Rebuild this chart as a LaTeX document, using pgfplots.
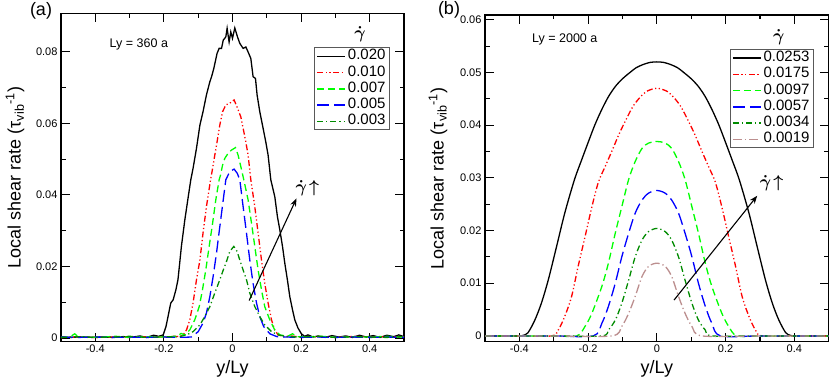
\documentclass[border=0pt]{standalone}
\usepackage{fontspec}
\setmainfont{Liberation Sans}
\usepackage{pgfplots}
\pgfplotsset{compat=1.18}
\usetikzlibrary{arrows.meta}
\definecolor{gred}{RGB}{255,0,0}
\definecolor{ggreen}{RGB}{0,255,0}
\definecolor{gblue}{RGB}{0,0,255}
\definecolor{gdkgreen}{RGB}{0,139,0}
\definecolor{gbrown}{RGB}{188,143,143}

\tikzset{
  sblack/.style={color=black, draw=black},
  sred/.style={color=gred, draw=gred, dash pattern=on 6pt off 2.5pt on 1.2pt off 2.5pt on 1.2pt off 2.5pt},
  sgreen/.style={color=ggreen, draw=ggreen, dash pattern=on 7pt off 4pt},
  sblue/.style={color=gblue, draw=gblue, dash pattern=on 12pt off 5pt},
  sdkgreen/.style={color=gdkgreen, draw=gdkgreen, dash pattern=on 6pt off 3pt on 1.2pt off 3pt},
  sbrown/.style={color=gbrown, draw=gbrown, dash pattern=on 9pt off 3pt on 1.2pt off 3pt},
  gdot/.style={font=\fontsize{18}{19}\selectfont\boldmath, inner sep=0pt},
}

\pgfplotsset{
  panel/.style={
    scale only axis,
    xmin=-0.5, xmax=0.5,
    xtick={-0.4,-0.2,0,0.2,0.4},
    minor x tick num=1,
    minor y tick num=1,
    tick align=inside,
    major tick length=9pt, minor tick length=4.5pt,
    axis line style={line width=1.4pt},
    every tick/.style={line width=1.1pt,black},
    tick label style={font=\fontsize{11}{13}\selectfont},
    scaled y ticks=false, scaled x ticks=false,
    /pgf/number format/assume math mode=true,
    /pgf/number format/fixed,
    /pgf/number format/precision=2,
    label style={font=\fontsize{18}{20}\selectfont},
    xlabel={y/Ly},
    ylabel={Local shear rate (τ\textsubscript{vib}\textsuperscript{-1})},
    xlabel style={at={(axis description cs:0.5,-0.083)},anchor=center},
    legend cell align=left,
    legend style={font=\fontsize{15}{16}\selectfont, draw=black!65, fill=white, line width=0.9pt,
      anchor=north east, inner xsep=2pt, inner ysep=1pt,
      nodes={inner ysep=0pt, text height=11pt, text depth=4pt}, row sep=1.3pt},
    legend image code/.code={\draw[line width=1.4pt,#1] (0pt,0pt) -- (28pt,0pt);},
    every axis plot/.append style={line width=1.3pt},
  },
}

\begin{document}
\begin{tikzpicture}
\useasboundingbox (0,0) rectangle (830pt,380pt);

% ---------- (a) Ly = 360 a ----------
\begin{axis}[panel, at={(61pt,38.3pt)}, anchor=south west,
  width=343pt, height=328.4pt,
  ymin=-0.001, ymax=0.0907, ytick={0,0.02,0.04,0.06,0.08},
  ylabel style={at={(axis description cs:-0.134,0.5)},anchor=center},
  legend style={at={(0.959,0.8965)}}]
\addplot[sblack, sharp plot] coordinates {(-0.5,0.0003) (-0.47,0.0002) (-0.44,0.0004) (-0.41,0.0002) (-0.38,0.0003) (-0.35,0.0002) (-0.32,0.0004) (-0.29,0.0003) (-0.27,0.0006) (-0.25,0.0002) (-0.23,0.0008) (-0.215,0.0005) (-0.202,0.0009) (-0.194,0.0032) (-0.188,0.006) (-0.18,0.0098) (-0.173,0.0107) (-0.165,0.0135) (-0.159,0.0163) (-0.154,0.0209) (-0.149,0.0256) (-0.144,0.0293) (-0.139,0.033) (-0.129,0.0395) (-0.1216,0.0442) (-0.115,0.0474) (-0.105,0.053) (-0.095,0.0595) (-0.086,0.0632) (-0.076,0.0679) (-0.066,0.0716) (-0.061,0.073) (-0.0545,0.0753) (-0.045,0.0795) (-0.039,0.0809) (-0.032,0.0809) (-0.027,0.0832) (-0.0195,0.0841) (-0.0157,0.0865) (-0.0099,0.0827) (-0.005,0.0855) (0,0.0837) (0.0067,0.0866) (0.0146,0.0841) (0.0213,0.0823) (0.031,0.0809) (0.039,0.0813) (0.0455,0.0799) (0.0534,0.0781) (0.060,0.073) (0.067,0.0725) (0.0717,0.0679) (0.0796,0.0632) (0.0892,0.0586) (0.097,0.0548) (0.1038,0.0511) (0.1117,0.0442) (0.1233,0.0395) (0.131,0.0339) (0.138,0.0302) (0.1458,0.0256) (0.1525,0.0209) (0.160,0.0163) (0.167,0.0116) (0.175,0.0079) (0.1816,0.0051) (0.191,0.0028) (0.201,0.0012) (0.21,0.0005) (0.22,0.0009) (0.235,0.0003) (0.25,0.0006) (0.27,0.0002) (0.29,0.0007) (0.31,0.0003) (0.33,0.0006) (0.35,0.0002) (0.37,0.0008) (0.39,0.0003) (0.41,0.0007) (0.43,0.0002) (0.45,0.0008) (0.47,0.0004) (0.485,0.0009) (0.5,0.0004)};
\addlegendentry{0.020}
\addplot[sred, sharp plot] coordinates {(-0.5,0.0002) (-0.45,0.0003) (-0.4,0.0002) (-0.35,0.0003) (-0.3,0.0002) (-0.25,0.0004) (-0.2,0.0003) (-0.17,0.0005) (-0.155,0.0004) (-0.144,0.0009) (-0.134,0.0023) (-0.1245,0.0051) (-0.115,0.0098) (-0.105,0.0163) (-0.095,0.0218) (-0.086,0.0293) (-0.076,0.0367) (-0.064,0.0442) (-0.058,0.0474) (-0.0516,0.0511) (-0.045,0.0548) (-0.037,0.0595) (-0.029,0.0632) (-0.0195,0.0651) (-0.0079,0.0656) (0.0047,0.0665) (0.0146,0.0642) (0.0242,0.0618) (0.031,0.0586) (0.0388,0.0548) (0.0455,0.0511) (0.0534,0.0442) (0.065,0.0367) (0.0747,0.0293) (0.0845,0.0218) (0.094,0.0153) (0.1038,0.0098) (0.1137,0.0051) (0.123,0.0023) (0.133,0.0009) (0.15,0.0004) (0.17,0.0006) (0.2,0.0003) (0.25,0.0004) (0.3,0.0002) (0.35,0.0005) (0.4,0.0003) (0.45,0.0004) (0.5,0.0003)};
\addlegendentry{0.010}
\addplot[sgreen, sharp plot] coordinates {(-0.5,0.0002) (-0.475,0.0003) (-0.46,0.0012) (-0.45,0.0004) (-0.42,0.0002) (-0.38,0.0003) (-0.34,0.0005) (-0.3,0.0002) (-0.26,0.0004) (-0.22,0.0003) (-0.18,0.0004) (-0.16,0.0006) (-0.15,0.0013) (-0.139,0.0009) (-0.1245,0.0023) (-0.11,0.0051) (-0.097,0.0088) (-0.0875,0.0135) (-0.078,0.019) (-0.068,0.0256) (-0.058,0.0321) (-0.0487,0.0386) (-0.039,0.0442) (-0.035,0.0455) (-0.029,0.0483) (-0.0224,0.0502) (-0.0128,0.0516) (-0.003,0.0525) (0.0087,0.0532) (0.0163,0.0511) (0.0233,0.0483) (0.033,0.0442) (0.0455,0.0386) (0.0554,0.0321) (0.065,0.0256) (0.0747,0.019) (0.0845,0.0135) (0.094,0.0088) (0.1087,0.0051) (0.123,0.0023) (0.138,0.0009) (0.16,0.0005) (0.175,0.0012) (0.19,0.0004) (0.22,0.0003) (0.26,0.0005) (0.3,0.0002) (0.35,0.0004) (0.4,0.0003) (0.45,0.0005) (0.5,0.0003)};
\addlegendentry{0.007}
\addplot[sblue, sharp plot] coordinates {(-0.5,0.0003) (-0.45,0.0002) (-0.4,0.0003) (-0.35,0.0002) (-0.3,0.0003) (-0.25,0.0002) (-0.2,0.0003) (-0.16,0.0002) (-0.12,0.0003) (-0.1,0.0018) (-0.086,0.0042) (-0.076,0.007) (-0.066,0.0116) (-0.0565,0.0172) (-0.0467,0.0237) (-0.037,0.0311) (-0.027,0.0386) (-0.0195,0.0442) (-0.008,0.0465) (0.0047,0.0472) (0.014,0.046) (0.0213,0.0442) (0.031,0.0367) (0.0408,0.0293) (0.0504,0.0218) (0.060,0.0153) (0.07,0.0098) (0.0796,0.006) (0.091,0.0032) (0.109,0.0012) (0.13,0.0004) (0.16,0.0003) (0.2,0.0002) (0.25,0.0003) (0.3,0.0002) (0.35,0.0003) (0.4,0.0002) (0.45,0.0003) (0.5,0.0002)};
\addlegendentry{0.005}
\addplot[sdkgreen, sharp plot] coordinates {(-0.5,0.0002) (-0.45,0.0004) (-0.4,0.0002) (-0.35,0.0003) (-0.3,0.0005) (-0.25,0.0002) (-0.2,0.0004) (-0.16,0.0003) (-0.134,0.0009) (-0.115,0.0018) (-0.095,0.0037) (-0.081,0.006) (-0.066,0.0088) (-0.0516,0.0126) (-0.037,0.0163) (-0.027,0.019) (-0.0175,0.0214) (-0.008,0.0242) (0.0038,0.0256) (0.0134,0.0242) (0.0213,0.0218) (0.031,0.019) (0.0408,0.0163) (0.0504,0.0126) (0.065,0.0088) (0.0796,0.006) (0.094,0.0037) (0.1137,0.0018) (0.133,0.0009) (0.16,0.0004) (0.2,0.0003) (0.25,0.0005) (0.3,0.0002) (0.35,0.0004) (0.4,0.0003) (0.45,0.0002) (0.5,0.0004)};
\addlegendentry{0.003}
\node[font=\fontsize{12.5}{14}\selectfont] at (axis cs:-0.273,0.0821) {Ly = 360 a};
\node[gdot] at (rel axis cs:0.872,0.935) {$\dot{\gamma}$};
\draw[-{Stealth[length=8pt,width=6pt]}, line width=1.1pt] (axis cs:0.0485,0.0105) -- (axis cs:0.1866,0.039);
\node[gdot] at (axis cs:0.218,0.0418) {$\dot{\gamma}\!\uparrow$};
\end{axis}

% ---------- (b) Ly = 2000 a ----------
\begin{axis}[panel, at={(485pt,38.3pt)}, anchor=south west,
  width=343.7pt, height=326.7pt,
  ymin=-0.0011, ymax=0.0609, ytick={0,0.01,0.02,0.03,0.04,0.05,0.06},
  ylabel style={at={(axis description cs:-0.137,0.5)},anchor=center},
  legend style={at={(0.957,0.896)}}]
\addplot[sblack, smooth] coordinates {(-0.5,0) (-0.45,0) (-0.4,0) (-0.389,0.0001) (-0.375,0.0006) (-0.355,0.003) (-0.336,0.0062) (-0.316,0.0106) (-0.292,0.0169) (-0.268,0.0233) (-0.24,0.0296) (-0.22,0.0332) (-0.2,0.0367) (-0.18,0.0401) (-0.16,0.043) (-0.14,0.0455) (-0.12,0.0474) (-0.1,0.0488) (-0.08,0.0499) (-0.06,0.0509) (-0.04,0.0515) (-0.02,0.0519) (0,0.052) (0.02,0.0519) (0.04,0.0515) (0.06,0.0509) (0.08,0.0499) (0.1,0.0488) (0.12,0.0474) (0.14,0.0455) (0.16,0.043) (0.18,0.0401) (0.2,0.0367) (0.22,0.0332) (0.24,0.0296) (0.268,0.0233) (0.292,0.0169) (0.316,0.0106) (0.336,0.0062) (0.355,0.003) (0.375,0.0006) (0.389,0.0001) (0.4,0) (0.45,0) (0.5,0)};
\addlegendentry{0.0253}
\addplot[sred, smooth] coordinates {(-0.5,0) (-0.4,0) (-0.306,0) (-0.287,0.0011) (-0.268,0.0037) (-0.248,0.0075) (-0.229,0.0132) (-0.209,0.0188) (-0.189,0.0245) (-0.17,0.0292) (-0.15,0.0322) (-0.13,0.0352) (-0.11,0.0383) (-0.09,0.041) (-0.07,0.0435) (-0.05,0.0452) (-0.03,0.0464) (0,0.047) (0.03,0.0464) (0.05,0.0452) (0.07,0.0435) (0.09,0.041) (0.11,0.0383) (0.13,0.0352) (0.15,0.0322) (0.17,0.0292) (0.189,0.0245) (0.209,0.0188) (0.229,0.0132) (0.248,0.0075) (0.268,0.0037) (0.287,0.0011) (0.306,0) (0.4,0) (0.5,0)};
\addlegendentry{0.0175}
\addplot[sgreen, smooth] coordinates {(-0.5,0) (-0.4,0) (-0.3,0) (-0.233,0) (-0.209,0.0018) (-0.189,0.0043) (-0.16,0.0094) (-0.141,0.0138) (-0.121,0.0195) (-0.102,0.0245) (-0.082,0.0297) (-0.063,0.0331) (-0.043,0.0356) (-0.024,0.0366) (0,0.0369) (0.024,0.0366) (0.043,0.0356) (0.063,0.0331) (0.082,0.0297) (0.102,0.0245) (0.121,0.0195) (0.141,0.0138) (0.16,0.0094) (0.189,0.0043) (0.209,0.0018) (0.233,0) (0.3,0) (0.4,0) (0.5,0)};
\addlegendentry{0.0097}
\addplot[sblue, smooth] coordinates {(-0.5,0) (-0.4,0) (-0.3,0) (-0.185,0) (-0.16,0.0024) (-0.141,0.0056) (-0.121,0.01) (-0.102,0.015) (-0.082,0.0195) (-0.063,0.0233) (-0.043,0.0258) (-0.024,0.0271) (0,0.0276) (0.024,0.0271) (0.043,0.0258) (0.063,0.0233) (0.082,0.0195) (0.102,0.015) (0.121,0.01) (0.141,0.0056) (0.16,0.0024) (0.185,0) (0.3,0) (0.4,0) (0.5,0)};
\addlegendentry{0.0057}
\addplot[sdkgreen, smooth] coordinates {(-0.5,0) (-0.4,0) (-0.3,0) (-0.16,0) (-0.141,0.0011) (-0.121,0.003) (-0.102,0.0062) (-0.082,0.0106) (-0.063,0.015) (-0.043,0.0182) (-0.024,0.0198) (0,0.0204) (0.024,0.0198) (0.043,0.0182) (0.063,0.015) (0.082,0.0106) (0.102,0.0062) (0.121,0.003) (0.141,0.0011) (0.16,0) (0.3,0) (0.4,0) (0.5,0)};
\addlegendentry{0.0034}
\addplot[sbrown, smooth] coordinates {(-0.5,0) (-0.4,0) (-0.3,0) (-0.131,0) (-0.102,0.0018) (-0.082,0.0043) (-0.063,0.0075) (-0.043,0.0113) (-0.024,0.0132) (0,0.0138) (0.024,0.0132) (0.043,0.0113) (0.063,0.0075) (0.082,0.0043) (0.102,0.0018) (0.131,0) (0.3,0) (0.4,0) (0.5,0)};
\addlegendentry{0.0019}
\node[font=\fontsize{12.5}{14}\selectfont] at (axis cs:-0.268,0.0562) {Ly = 2000 a};
\node[gdot] at (rel axis cs:0.855,0.932) {$\dot{\gamma}$};
\draw[-{Stealth[length=8pt,width=6pt]}, line width=1.1pt] (axis cs:0.050,0.0068) -- (axis cs:0.292,0.0266);
\node[gdot] at (axis cs:0.334,0.029) {$\dot{\gamma}\!\uparrow$};
\end{axis}

\node[font=\fontsize{18}{20}\selectfont] at (41pt,369pt) {(a)};
\node[font=\fontsize{18}{20}\selectfont] at (449pt,370pt) {(b)};
\end{tikzpicture}
\end{document}
